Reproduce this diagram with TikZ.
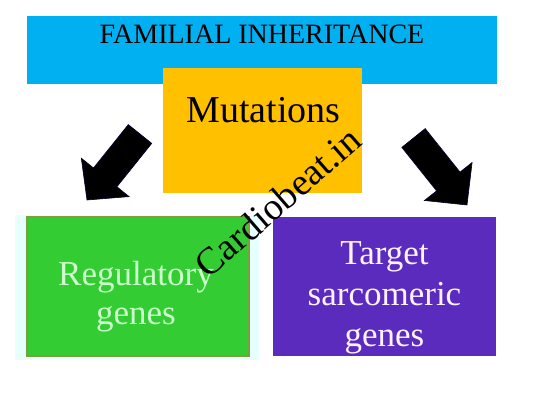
\documentclass[tikz,border=0pt]{standalone}
\usepackage{fontspec}
\setmainfont{Liberation Serif}
\definecolor{bannerblue}{HTML}{00B0F0}
\definecolor{mutorange}{HTML}{FFC000}
\definecolor{reggreen}{HTML}{33CC33}
\definecolor{regtext}{HTML}{CCFFCC}
\definecolor{regedge}{HTML}{7F9F3F}
\definecolor{glow}{HTML}{E6FFFF}
\definecolor{tarpurple}{HTML}{5B2BBD}
\definecolor{tartext}{HTML}{FFF2FF}
\begin{document}
\begin{tikzpicture}[x=1pt,y=-1pt,
  boxstyle/.style={rectangle,inner sep=0pt,outer sep=0pt},
  arrowshape/.style={fill=black,draw=black!80!blue,line width=0.6pt,line join=miter}]
\useasboundingbox (0,0) rectangle (549,411);
\fill[white] (0,0) rectangle (549,411);
% banner
\node[boxstyle,fill=bannerblue,minimum width=470pt,minimum height=68pt] (banner) at (262,50) {};
\node[inner sep=0pt,font=\fontsize{28}{30}\selectfont] (title) at (262,34) {FAMILIAL INHERITANCE};
% mutations
\node[boxstyle,fill=mutorange,minimum width=199pt,minimum height=125pt] (mut) at (262.5,130.5) {};
\node[inner sep=0pt,font=\fontsize{38}{40}\selectfont,anchor=base] (muttext) at (263.5,123) {Mutations};
% regulatory
\node[boxstyle,fill=glow,minimum width=244pt,minimum height=145pt] (regglow) at (137,287.5) {};
\node[boxstyle,fill=reggreen,draw=regedge,line width=1.5pt,minimum width=222pt,minimum height=139pt] (reg) at (138,286.5) {};
\node[inner sep=0pt,align=center,text=regtext,font=\fontsize{35}{39}\selectfont,anchor=base] (regtxt) at (136,325) {Regulatory\\genes};
% target
\node[boxstyle,fill=tarpurple,minimum width=223pt,minimum height=139pt] (tar) at (384.5,286.5) {};
\node[inner sep=0pt,align=center,text=tartext,font=\fontsize{35}{41}\selectfont,anchor=base] (tartxt) at (384.5,347) {Target\\sarcomeric\\genes};
% arrows
\draw[arrowshape] (151.7,143.4) -- (128.3,124.6) -- (93.5,168.0) -- (81.3,158.2) -- (87,200) -- (129.1,196.6) -- (116.9,186.8) -- cycle;
\draw[arrowshape] (425.2,128.6) -- (401.8,147.4) -- (436.6,190.9) -- (424.4,200.5) -- (467,205) -- (472.1,162.5) -- (460.0,172.1) -- cycle;
% watermark
\node[inner sep=0pt,rotate=41,font=\fontsize{38}{40}\selectfont] (wm) at (278,202) {Cardiobeat.in};
\end{tikzpicture}
\end{document}
